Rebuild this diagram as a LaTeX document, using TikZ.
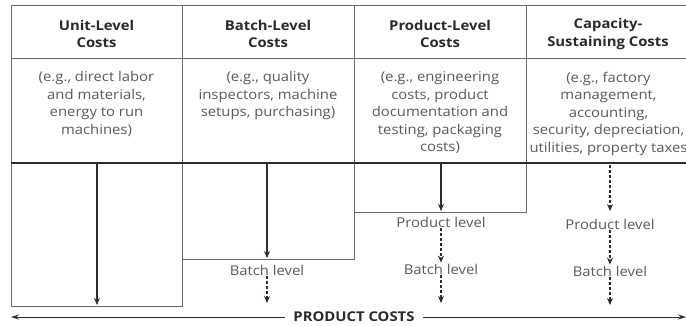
\documentclass[tikz,border=0pt]{standalone}
\usepackage{fontspec}
\setmainfont{Open Sans}[FakeStretch=1.1]
\usetikzlibrary{arrows.meta}
\definecolor{gridc}{HTML}{6A6A6A}
\definecolor{headc}{HTML}{2A2A2A}
\definecolor{bodyc}{HTML}{595959}
\definecolor{arrc}{HTML}{2E2E2E}
\begin{document}
\begin{tikzpicture}[x=1pt,y=-1pt,
  gridline/.style={draw=gridc,line width=0.9pt},
  head/.style={font=\fontsize{13.5}{17.5}\selectfont\bfseries,text=headc,align=center,inner sep=0pt},
  body/.style={font=\fontsize{13.5}{17.5}\selectfont,text=bodyc,align=center,inner sep=0pt,anchor=north},
  lvl/.style={font=\fontsize{13.5}{16}\selectfont,text=bodyc,inner sep=1pt},
  solidarr/.style={draw=arrc,line width=1.4pt,-{Stealth[length=7pt,width=6pt]}},
  dotarr/.style={draw=arrc,line width=1.6pt,dash pattern=on 2.5pt off 2.5pt,-{Stealth[length=7pt,width=6pt]}},
  costarr/.style={draw=arrc,line width=1pt,-{Stealth[length=8pt,width=5pt]}}]
\useasboundingbox (0,0) rectangle (686,325);
% grid
\draw[gridline] (11,5) -- (686,5);
\draw[gridline] (11,58) -- (686,58);
\draw[gridline] (11,5) -- (11,306) -- (182,306) -- (182,5);
\draw[gridline] (182,259) -- (354,259) -- (354,5);
\draw[gridline] (354,212) -- (526,212) -- (526,5);
\draw[draw=arrc,line width=2pt] (11,163) -- (686,163);
% headers
\node[head] (h1) at (96.5,34) {Unit-Level\\Costs};
\node[head] (h2) at (268,34) {Batch-Level\\Costs};
\node[head] (h3) at (440,34) {Product-Level\\Costs};
\node[head] (h4) at (608,34) {Capacity-\\Sustaining Costs};
% bodies
\node[body] (b1) at (96.5,71.5) {(e.g., direct labor\\and materials,\\energy to run\\machines)};
\node[body] (b2) at (268,71.5) {(e.g., quality\\inspectors, machine\\setups, purchasing)};
\node[body] (b3) at (440,71.5) {(e.g., engineering\\costs, product\\documentation and\\testing, packaging\\costs)};
\node[body] (b4) at (608.5,71.5) {(e.g., factory\\management,\\accounting,\\security, depreciation,\\utilities, property taxes};
% coordinates
\coordinate (s1) at (97,164);
\coordinate (e1) at (97,305);
\coordinate (s2) at (267,164);
\coordinate (e2) at (267,258);
\coordinate (s3) at (441,164);
\coordinate (e3) at (441,211);
\coordinate (s4) at (610,165);
\coordinate (e4) at (610,211);
% labels
\node[lvl] (bl2) at (267,270) {Batch level};
\node[lvl] (pl3) at (441,222) {Product level};
\node[lvl] (bl3) at (441,269) {Batch level};
\node[lvl] (pl4) at (610,224) {Product level};
\node[lvl] (bl4) at (610,271) {Batch level};
\coordinate (d2) at (267,303);
\coordinate (d3) at (441,303);
\coordinate (d4) at (610,305);
% arrows
\draw[solidarr] (s1) -- (e1);
\draw[solidarr] (s2) -- (e2);
\draw[solidarr] (s3) -- (e3);
\draw[dotarr] (s4) -- (e4);
\draw[dotarr] (pl3.south) -- (bl3.north);
\draw[dotarr] (pl4.south) -- (bl4.north);
\draw[dotarr] (bl2.south) -- (d2);
\draw[dotarr] (bl3.south) -- (d3);
\draw[dotarr] (bl4.south) -- (d4);
% product costs
\node[head,font=\fontsize{13.5}{16}\selectfont\bfseries] (pc) at (354,317) {PRODUCT COSTS};
\coordinate (pl) at (11,317);
\coordinate (pr) at (686,317);
\draw[costarr] (pc.west) ++(-8,0) -- (pl);
\draw[costarr] (pc.east) ++(8,0) -- (pr);
\end{tikzpicture}
\end{document}
